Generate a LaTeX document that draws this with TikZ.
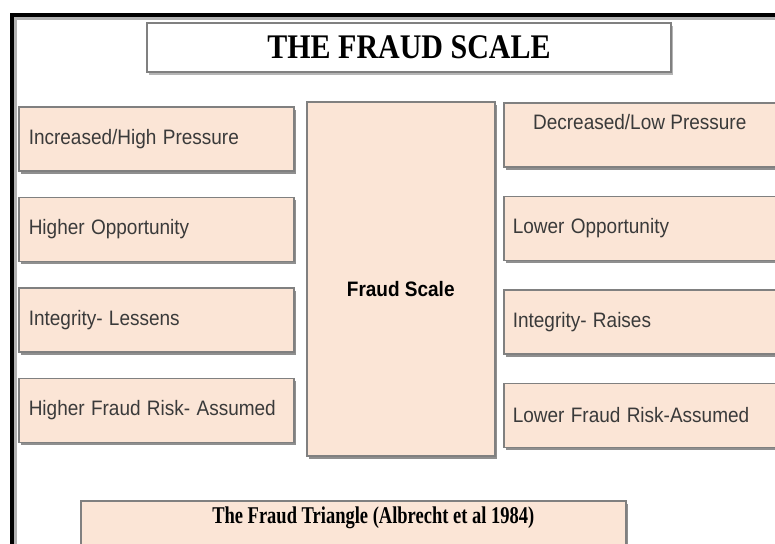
\documentclass[tikz,border=0pt]{standalone}
\usepackage{fontspec}
\setmainfont{Liberation Serif}
\setsansfont{Liberation Sans}
\usepackage{tikz}
\usetikzlibrary{positioning, shadows}
\definecolor{peach}{HTML}{FBE5D6}
\definecolor{edgegray}{HTML}{808080}
\definecolor{inkgray}{HTML}{3A3A3A}
% slightly taller lettering
\newcommand{\tall}[2][1.1]{\scalebox{1}[#1]{#2}}

\begin{document}
\begin{tikzpicture}[
  x=1pt, y=-1pt,
  box/.style={draw=edgegray, line width=1.5pt, fill=peach, inner sep=0pt,
              drop shadow={shadow xshift=2pt, shadow yshift=-3pt, fill=black!55, opacity=0.8}},
  lbox/.style={box, minimum width=275pt, minimum height=64pt, text width=255pt,
               align=left, font=\sffamily\fontsize{19}{22}\selectfont, text=inkgray},
  rbox/.style={lbox, minimum width=280pt, text width=262pt},
  midbox/.style={box, minimum width=188pt, minimum height=354pt},
  headbox/.style={box, fill=white, minimum width=524pt, minimum height=49pt,
                  font=\bfseries\fontsize{30}{34}\selectfont,
                  drop shadow={shadow xshift=2pt, shadow yshift=-3pt, fill=black!25, opacity=0.8}},
  tag/.style={inner sep=0pt, text=inkgray, font=\sffamily\fontsize{19}{22}\selectfont}
]
\useasboundingbox (0,0) rectangle (775,543);
\clip (0,0) rectangle (775,543);

% outer frame, open to the right and bottom
\draw[black!30, line width=3pt] (15.5,560) |- (790,18.5);
\draw[black, line width=4pt] (11.5,560) |- (790,15);

\node[headbox] (title) at (409,47.5) {\tall[1.15]{THE FRAUD SCALE}};

% middle column
\node[midbox, anchor=north west,
      label={[tag, font=\sffamily\bfseries\fontsize{19}{22}\selectfont, text=black, yshift=-10pt]center:\tall{Fraud Scale}}]
      (scale) at (306,101) {};

% left column
\node[lbox, anchor=north west] (hipress) at (18,106) {\tall{Increased/High Pressure}};
\node[lbox, below=25pt of hipress] (hiopp) {\tall{Higher Opportunity}};
\node[lbox, below=25pt of hiopp] (lessint) {\tall{Integrity- Lessens}};
\node[lbox, below=25pt of lessint] (hirisk) {\tall{Higher Fraud Risk- Assumed}};

% right column
\node[rbox, anchor=north west,
      label={[tag, anchor=north, xshift=-4pt, yshift=-12pt]north:\tall{Decreased/Low Pressure}}]
      (lopress) at (503,102) {};
\node[rbox, below=28pt of lopress] (loopp) {\tall{Lower Opportunity}};
\node[rbox, below=28pt of loopp] (raiseint) {\tall{Integrity- Raises}};
\node[rbox, below=28pt of raiseint] (lorisk) {\tall{Lower Fraud Risk-Assumed}};

% source line
\node[box, minimum width=545pt, minimum height=60pt, anchor=north west,
      label={[inner sep=0pt, font=\bfseries\fontsize{18.5}{22}\selectfont, anchor=center, xshift=20pt, yshift=-18pt]north:\tall[1.3]{The Fraud Triangle (Albrecht et al 1984)}}]
      (triangle) at (80,500) {};
\end{tikzpicture}
\end{document}
